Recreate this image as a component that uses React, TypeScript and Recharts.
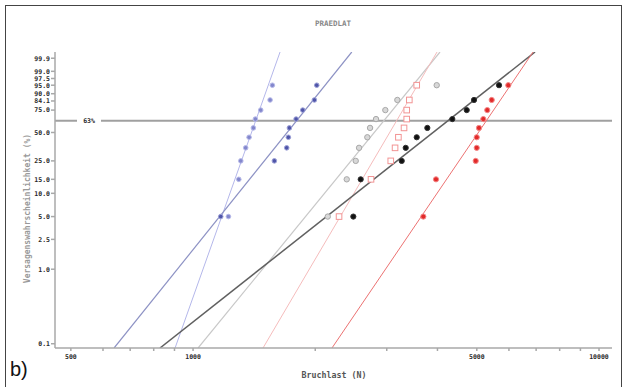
import React from 'react';
import { ComposedChart, Scatter, Line, XAxis, YAxis, ReferenceLine } from 'recharts';

// Weibull plot: failure probability (%) against breaking load (N)
const PCT = [5, 15, 25, 35, 45, 55, 65, 75, 85, 95];
const PCT_B = [5, 25, 35, 45, 55, 65, 75, 85, 95];

const blueA = [1222, 1296, 1311, 1348, 1374, 1408, 1424, 1468, 1548, 1568];
const blueB = [1170, 1586, 1701, 1717, 1727, 1794, 1863, 1990, 2017];
const gray = [2147, 2391, 2516, 2564, 2687, 2729, 2823, 2976, 3186, 3983];
const pink = [2289, 2744, 3069, 3145, 3205, 3309, 3360, 3360, 3410, 3556];
const black = [2482, 2588, 3266, 3341, 3556, 3777, 4352, 4722, 4922, 5672];
const red = [3692, 3967, 4969, 4998, 4998, 5063, 5188, 5306, 5441, 5978];

// fitted lines: load where each line meets the bottom and the top edge of the plot
const FIT_NAMES = ['blueA', 'blueB', 'gray', 'pink', 'black', 'red'];
const fitLow = [903, 639, 1029, 1487, 829, 2199];
const fitHigh = [1638, 2460, 4058, 3990, 6958, 6879];

const Y_MIN_PCT = 0.0876;
const Y_MAX_PCT = 99.977;
const yTickLabels = ['99.9', '99.0', '97.5', '95.0', '90.0', '84.1', '75.0', '50.0', '25.0', '15.0', '10.0', '5.0', '2.5', '1.0', '0.1'];
const xTicks = [500, 600, 700, 800, 900, 1000, 2000, 3000, 4000, 5000, 6000, 7000, 8000, 9000, 10000];
const xLabeled = [500, 1000, 5000, 10000];

const weib = (p: number) => Math.log(-Math.log(1 - p / 100));
const yTicks = yTickLabels.map(l => weib(parseFloat(l)));
const yDomain = [weib(Y_MIN_PCT), weib(Y_MAX_PCT)];

const pts = (loads: number[], pct: number[]) => loads.map((x, i) => ({ x, w: weib(pct[i]) }));
const fit = (i: number) => [
  { x: fitLow[i], w: yDomain[0] },
  { x: fitHigh[i], w: yDomain[1] },
];

const lineColors: Record<string, string> = {
  blueA: '#b4b7ea',
  blueB: '#8d92c4',
  gray: '#c8c8c8',
  pink: '#f5bcbc',
  black: '#606060',
  red: '#ec7272',
};
const lineWidths: Record<string, number> = { blueA: 1, blueB: 1.2, gray: 1.2, pink: 1, black: 1.5, red: 1 };

const dot = (fill: string, stroke: string, r = 2.6) => (p: any) => (
  <circle cx={p.cx} cy={p.cy} r={r} fill={fill} stroke={stroke} strokeWidth={1} />
);
const openSquare = (p: any) => (
  <rect x={p.cx - 2.8} y={p.cy - 2.8} width={5.6} height={5.6} fill="#fff" stroke="#f29494" strokeWidth={1} />
);

const tickStyle = { fontSize: 6.5, fontFamily: 'DejaVu Sans Mono', fontWeight: 'bold', fill: '#2a2a2a' };

const RefLabel = (props: any) => {
  const { x, y } = props.viewBox;
  return (
    <g>
      <rect x={x + 22} y={y - 4} width={24} height={8} fill="#fff" />
      <text x={x + 34} y={y + 2.5} textAnchor="middle" style={tickStyle}>63%</text>
    </g>
  );
};

export default function App() {
  return (
    <div style={{ position: 'absolute', left: 0, top: 0, width: 626, height: 387, background: '#fff', overflow: 'hidden', fontFamily: 'DejaVu Sans Mono' }}>
      <div style={{ position: 'absolute', left: 5, top: 5, width: 615, height: 400, borderLeft: '1.5px solid #444', borderTop: '1.5px solid #444', borderRight: '1.5px solid #444' }} />
      <ComposedChart width={626} height={387} margin={{ top: 52, right: 14, bottom: 0, left: 0 }}>
        <XAxis
          dataKey="x"
          type="number"
          scale="log"
          domain={[457, 10765]}
          allowDataOverflow
          ticks={xTicks}
          interval={0}
          tickFormatter={(v: number) => (xLabeled.includes(v) ? String(v) : '')}
          tick={tickStyle}
          tickSize={3}
          tickMargin={3}
          height={39}
          stroke="#a8a8a8"
          strokeWidth={1.5}
        />
        <XAxis
          xAxisId="top"
          orientation="top"
          type="number"
          scale="log"
          domain={[457, 10765]}
          allowDataOverflow
          ticks={xTicks}
          interval={0}
          tickFormatter={() => ''}
          tickSize={3}
          height={0}
          stroke="#a8a8a8"
          strokeWidth={1.5}
        />
        <YAxis
          dataKey="w"
          type="number"
          domain={yDomain}
          allowDataOverflow
          ticks={yTicks}
          interval={0}
          tickFormatter={(v: number) => yTickLabels[yTicks.findIndex(t => Math.abs(t - v) < 1e-6)] ?? ''}
          tick={tickStyle}
          tickSize={4}
          tickMargin={1}
          width={55}
          stroke="#a8a8a8"
          strokeWidth={1.5}
        />
        <YAxis
          yAxisId="r"
          orientation="right"
          type="number"
          domain={yDomain}
          allowDataOverflow
          ticks={[]}
          tickLine={false}
          tick={false}
          width={0}
          stroke="#a8a8a8"
          strokeWidth={1.5}
        />
        <ReferenceLine y={0} stroke="#a0a0a0" strokeWidth={2} label={<RefLabel />} />
        {FIT_NAMES.map((name, i) => (
          <Line
            key={name}
            data={fit(i)}
            dataKey="w"
            type="linear"
            stroke={lineColors[name]}
            strokeWidth={lineWidths[name]}
            dot={false}
            activeDot={false}
            isAnimationActive={false}
          />
        ))}
        <Scatter data={pts(blueA, PCT)} shape={dot('#8387cc', '#b8bbea', 2.3)} isAnimationActive={false} />
        <Scatter data={pts(blueB, PCT_B)} shape={dot('#4f55a8', '#9ea2d8', 2.3)} isAnimationActive={false} />
        <Scatter data={pts(gray, PCT)} shape={dot('#d8d8d8', '#a8a8a8', 2.7)} isAnimationActive={false} />
        <Scatter data={pts(pink, PCT)} shape={openSquare} isAnimationActive={false} />
        <Scatter data={pts(black, PCT)} shape={dot('#111', '#333', 2.6)} isAnimationActive={false} />
        <Scatter data={pts(red, PCT)} shape={dot('#e22a2a', '#f48a8a', 2.6)} isAnimationActive={false} />
      </ComposedChart>
      <div style={{ position: 'absolute', left: 283, top: 19, width: 100, textAlign: 'center', fontSize: 7.5, fontWeight: 'bold', color: '#888' }}>PRAEDLAT</div>
      <div style={{ position: 'absolute', left: 284, top: 370, width: 100, textAlign: 'center', fontSize: 8.3, fontWeight: 'bold', color: '#555' }}>Bruchlast (N)</div>
      <div style={{ position: 'absolute', left: 27, top: 210, width: 0, height: 0 }}>
        <div style={{ position: 'absolute', left: -100, top: -6, width: 200, textAlign: 'center', transform: 'rotate(-90deg)', fontSize: 8, fontWeight: 'bold', color: '#999', whiteSpace: 'nowrap' }}>
          Versagenswahrscheinlichkeit (%)
        </div>
      </div>
      <div style={{ position: 'absolute', left: 10, top: 358, fontSize: 20, fontFamily: 'Liberation Sans', color: '#111' }}>b)</div>
    </div>
  );
}
